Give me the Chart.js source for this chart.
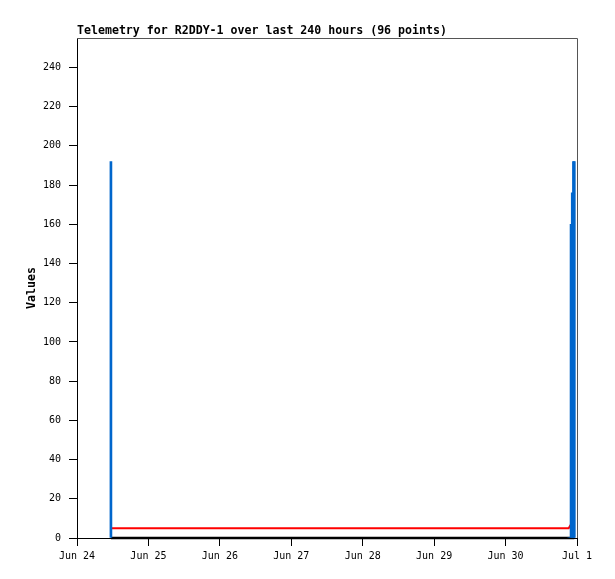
<!DOCTYPE html>
<html>
<head>
<meta charset="utf-8">
<script src="https://cdn.jsdelivr.net/npm/chart.js@4/dist/chart.umd.min.js"></script>
<style>
  body { margin: 0; background: #fff; }
  canvas { display: block; }
</style>
</head>
<body>
<canvas id="grafico" width="615" height="579"></canvas>
<script>
const titulo = 'Telemetry for R2DDY-1 over last 240 hours (96 points)';
const dayLabels = ['Jun 24', 'Jun 25', 'Jun 26', 'Jun 27', 'Jun 28', 'Jun 29', 'Jun 30', 'Jul 1'];
// horas desde Jun 24 00:00
const hours = [11.4, 165.2, 165.6, 166.0, 166.4, 166.8, 167.1];
const blueValues = [192, 0, 0, 160, 176, 192, 192];
const redValues = [5, 5, 6, 5, 5, 5, 5];
const zeroValues = [0, 0, 0, 0, 0, 0, 0];
const yTickStep = 20;
const yMax = 255;

const pts = vals => vals.map((v, i) => ({ x: hours[i], y: v }));

// título e moldura cinza (topo e direita)
const frame = {
  id: 'frame',
  afterDraw(chart) {
    const { ctx, chartArea: a } = chart;
    ctx.save();
    ctx.strokeStyle = '#555';
    ctx.lineWidth = 1;
    ctx.beginPath();
    ctx.moveTo(a.left, a.top + 0.5);
    ctx.lineTo(a.right + 0.5, a.top + 0.5);
    ctx.lineTo(a.right + 0.5, a.bottom);
    ctx.stroke();
    ctx.fillStyle = '#000';
    ctx.font = 'bold 11.6px "DejaVu Sans Mono"';
    ctx.textBaseline = 'alphabetic';
    ctx.fillText(titulo, a.left, 34);
    ctx.restore();
  }
};

const tickFont = { family: 'DejaVu Sans Mono', size: 10 };

new Chart(document.getElementById('grafico').getContext('2d'), {
  type: 'bar',
  data: {
    datasets: [
      {
        type: 'line',
        data: pts(zeroValues),
        borderColor: '#000',
        borderWidth: 2.5,
        pointRadius: 0,
        tension: 0,
        clip: false,
        order: 3
      },
      {
        type: 'line',
        data: pts(redValues),
        borderColor: '#ff0000',
        borderWidth: 2,
        pointRadius: 0,
        tension: 0,
        order: 2
      },
      {
        type: 'bar',
        data: pts(blueValues),
        backgroundColor: '#0066cc',
        barThickness: 2,
        order: 1
      }
    ]
  },
  options: {
    responsive: false,
    animation: false,
    devicePixelRatio: 1,
    layout: { padding: { top: 38, right: 38, left: 0, bottom: 0 } },
    plugins: { legend: { display: false }, tooltip: { enabled: false } },
    scales: {
      x: {
        type: 'linear',
        min: 0,
        max: 168,
        offset: false,
        afterFit: s => { s.height = 41; },
        grid: { offset: false, drawOnChartArea: false, tickLength: 8, color: '#000' },
        border: { color: '#000', width: 1 },
        ticks: {
          stepSize: 24,
          maxRotation: 0,
          autoSkip: false,
          padding: 4,
          color: '#000',
          font: tickFont,
          callback: v => dayLabels[v / 24]
        }
      },
      y: {
        min: 0,
        max: yMax,
        afterFit: s => { s.width = 77; },
        afterBuildTicks: s => { s.ticks = s.ticks.filter(t => t.value % yTickStep === 0); },
        grid: { drawOnChartArea: false, tickLength: 8, color: '#000' },
        border: { color: '#000', width: 1 },
        ticks: { stepSize: yTickStep, padding: 8, color: '#000', font: tickFont },
        title: {
          display: true,
          text: 'Values',
          color: '#000',
          font: { family: 'DejaVu Sans Mono', size: 11.6, weight: 'bold' },
          padding: { top: 25, bottom: 0 }
        }
      }
    }
  },
  plugins: [frame]
});
</script>
</body>
</html>
